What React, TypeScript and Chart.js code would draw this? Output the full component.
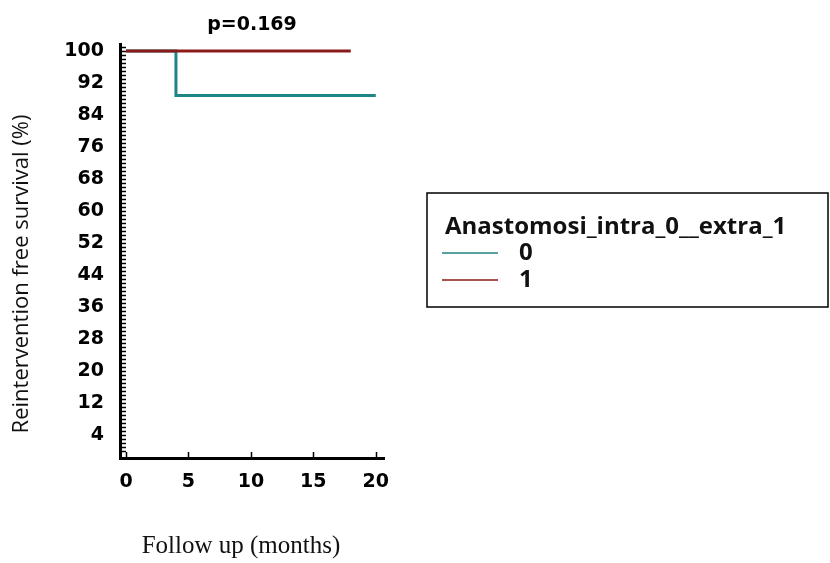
import React, { useEffect, useRef } from "react";
import { Chart, registerables } from "chart.js";

Chart.register(...registerables);

// ---- data ----
const chartTitle = "p=0.169";
const legendTitle = "Anastomosi_intra_0__extra_1";
const groupNames = ["0", "1"];
const group0Times = [0, 4, 20];
const group0Survival = [100, 88.9, 88.9];
const group1Times = [0, 18];
const group1Survival = [100, 100];
const xTickValues = [0, 5, 10, 15, 20];
const yTickValues = [100, 92, 84, 76, 68, 60, 52, 44, 36, 28, 20, 12, 4];
const xAxisTitle = "Follow up (months)";
const yAxisTitle = "Reintervention free survival (%)";

const TEAL = "#1f8585";
const DARKRED = "#8a1a1a";

const innerTicksPlugin = {
  id: "innerTicks",
  afterDatasetsDraw(chart: any) {
    const { ctx, chartArea, scales } = chart;
    const ys = scales.y;
    const xs = scales.x;
    ctx.save();
    ctx.strokeStyle = "#000";
    ctx.lineWidth = 1.5;
    ctx.beginPath();
    for (let v = 0; v <= 101; v++) {
      const py = Math.round(ys.getPixelForValue(v)) + 0.5;
      ctx.moveTo(chartArea.left, py);
      ctx.lineTo(chartArea.left + 6, py);
    }
    for (const v of xTickValues) {
      const px = Math.round(xs.getPixelForValue(v)) + 0.5;
      ctx.moveTo(px, chartArea.bottom);
      ctx.lineTo(px, chartArea.bottom - 6);
    }
    ctx.stroke();
    ctx.restore();
  },
};

const axisTitlesPlugin = {
  id: "axisTitles",
  afterDraw(chart: any) {
    const { ctx } = chart;
    ctx.save();
    ctx.fillStyle = "#111";
    ctx.textAlign = "center";
    ctx.textBaseline = "middle";
    ctx.font = "25px 'Liberation Serif'";
    ctx.fillText(xAxisTitle, 241, 546);
    ctx.translate(22, 274);
    ctx.rotate(-Math.PI / 2);
    ctx.font = "22px 'Open Sans'";
    ctx.fillText(yAxisTitle, 0, 0);
    ctx.restore();
  },
};

const boxLegendPlugin = {
  id: "boxLegend",
  afterDraw(chart: any) {
    const { ctx } = chart;
    const bx = 427, by = 193, bw = 401, bh = 114;
    ctx.save();
    ctx.strokeStyle = "#000";
    ctx.lineWidth = 1.5;
    ctx.strokeRect(bx, by, bw, bh);
    ctx.fillStyle = "#111";
    ctx.textBaseline = "middle";
    ctx.textAlign = "left";
    ctx.font = "bold 24px 'Open Sans'";
    ctx.fillText(legendTitle, bx + 18, by + 34);
    chart.data.datasets
      .slice()
      .sort((a: any, b: any) => Number(a.label) - Number(b.label))
      .forEach((ds: any, i: number) => {
        const y = by + 60 + i * 27;
        ctx.strokeStyle = ds.borderColor;
        ctx.lineWidth = 1.5;
        ctx.beginPath();
        ctx.moveTo(bx + 15, y);
        ctx.lineTo(bx + 71, y);
        ctx.stroke();
        ctx.fillStyle = "#111";
        ctx.font = "bold 24px 'Open Sans'";
        ctx.fillText(ds.label, bx + 92, y);
      });
    ctx.restore();
  },
};

export default function App() {
  const canvasRef = useRef<HTMLCanvasElement | null>(null);

  useEffect(() => {
    const canvas = canvasRef.current;
    if (!canvas) return;
    const tickFont = { family: "'DejaVu Sans'", size: 19, weight: "bold" as const };
    const chart = new Chart(canvas, {
      type: "line",
      data: {
        datasets: [
          {
            label: groupNames[0],
            data: group0Times.map((t, i) => ({ x: t, y: group0Survival[i] })),
            borderColor: TEAL,
            backgroundColor: TEAL,
            borderWidth: 3,
            pointRadius: 0,
            stepped: "before",
            order: 1,
          },
          {
            label: groupNames[1],
            data: group1Times.map((t, i) => ({ x: t, y: group1Survival[i] })),
            borderColor: DARKRED,
            backgroundColor: DARKRED,
            borderWidth: 3,
            pointRadius: 0,
            stepped: "before",
            order: 0,
          },
        ],
      },
      options: {
        responsive: false,
        animation: false,
        layout: { padding: { left: 0, right: 446, top: 0, bottom: 0 } },
        plugins: {
          legend: { display: false },
          tooltip: { enabled: false },
          title: {
            display: true,
            text: chartTitle,
            fullSize: false,
            color: "#000",
            font: { family: "'DejaVu Sans'", size: 19, weight: "bold" },
            padding: { top: 14, bottom: 7.2 },
          },
        },
        scales: {
          x: {
            type: "linear",
            min: -0.48,
            max: 20.66,
            afterFit: (s: any) => {
              s.height = 105;
            },
            afterBuildTicks: (s: any) => {
              s.ticks = xTickValues.map((v) => ({ value: v }));
            },
            grid: { display: false, drawTicks: false },
            border: { display: true, color: "#000", width: 3 },
            ticks: {
              color: "#000",
              font: tickFont,
              padding: 13,
              maxRotation: 0,
              autoSkip: false,
            },
            title: { display: false },
          },
          y: {
            type: "linear",
            min: -1.75,
            max: 101.75,
            afterFit: (s: any) => {
              s.width = 120;
            },
            afterBuildTicks: (s: any) => {
              s.ticks = yTickValues.map((v) => ({ value: v }));
            },
            grid: { display: false, drawTicks: false },
            border: { display: true, color: "#000", width: 3 },
            ticks: {
              color: "#000",
              font: tickFont,
              padding: 16,
              autoSkip: false,
            },
            title: { display: false },
          },
        },
      },
      plugins: [innerTicksPlugin, axisTitlesPlugin, boxLegendPlugin],
    });
    return () => chart.destroy();
  }, []);

  return (
    <canvas
      ref={canvasRef}
      width={830}
      height={563}
      style={{ position: "absolute", left: 0, top: 0, width: 830, height: 563, background: "#fff" }}
    />
  );
}
